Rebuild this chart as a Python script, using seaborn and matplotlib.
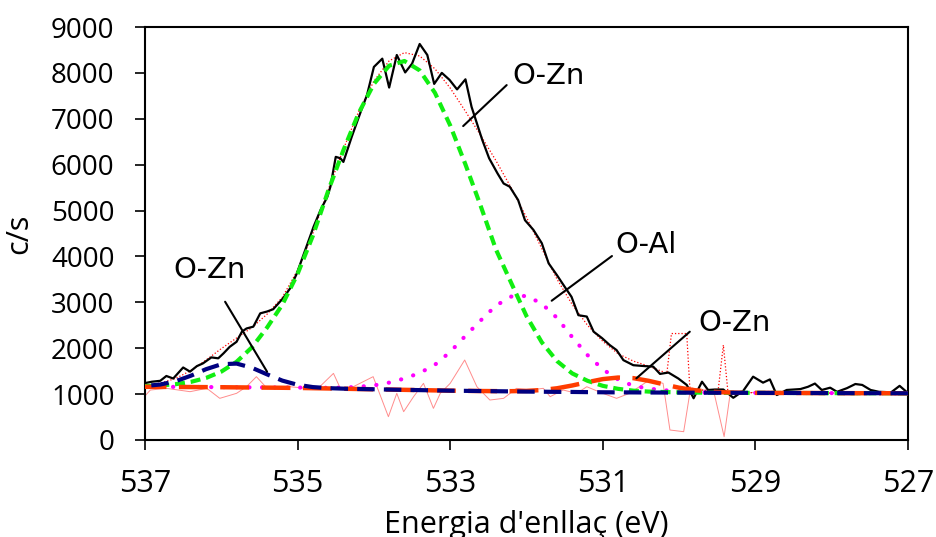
import matplotlib
matplotlib.use("Agg")
import matplotlib.pyplot as plt
import seaborn as sns

# ---------------- data ----------------
# experimental spectrum (black)
exp_energy = [537.00, 536.91, 536.80, 536.72, 536.63, 536.50, 536.41, 536.32, 536.24, 536.13,
              536.04, 535.97, 535.89, 535.80, 535.73, 535.67, 535.58, 535.49, 535.40, 535.32,
              535.19, 535.10, 535.01, 534.90, 534.79, 534.70, 534.61, 534.57, 534.50, 534.44,
              534.40, 534.29, 534.18, 534.09, 534.00, 533.89, 533.80, 533.70, 533.59, 533.50,
              533.40, 533.30, 533.21, 533.11, 533.01, 532.91, 532.80, 532.72, 532.65, 532.58,
              532.49, 532.38, 532.30, 532.22, 532.11, 532.02, 531.91, 531.80, 531.71, 531.60,
              531.50, 531.41, 531.32, 531.21, 531.12, 531.01, 530.91, 530.82, 530.73, 530.60,
              530.45, 530.34, 530.25, 530.14, 530.01, 529.90, 529.81, 529.70, 529.62, 529.53,
              529.42, 529.29, 529.16, 529.03, 528.90, 528.81, 528.72, 528.59, 528.41, 528.31,
              528.22, 528.13, 528.02, 527.93, 527.80, 527.69, 527.60, 527.49, 527.38, 527.22,
              527.11, 527.02, 527.00]
exp_counts = [1240, 1270, 1290, 1395, 1340, 1580, 1490, 1610, 1670, 1800,
              1780, 1890, 2030, 2140, 2360, 2430, 2470, 2760, 2800, 2850,
              3090, 3300, 3630, 4140, 4650, 5010, 5300, 5520, 6170, 6140,
              6060, 6610, 7120, 7520, 8130, 8310, 7680, 8390, 8010, 8200,
              8630, 8390, 7760, 8000, 7850, 7640, 7860, 7260, 6900, 6540,
              6140, 5810, 5590, 5520, 5230, 4790, 4580, 4290, 3850, 3590,
              3340, 3120, 2720, 2690, 2360, 2220, 2070, 1960, 1740, 1630,
              1610, 1600, 1440, 1470, 1340, 1200, 910, 1270, 1090, 1100,
              1100, 920, 1070, 1380, 1250, 1320, 980, 1090, 1110, 1160,
              1230, 1090, 1140, 1050, 1130, 1220, 1200, 1090, 1050, 1040,
              1180, 1050, 1050]

# fitted components (each including background)
fit_energy = [537.0, 536.8, 536.6, 536.4, 536.2, 536.0, 535.8, 535.6, 535.4, 535.2,
              535.0, 534.8, 534.6, 534.4, 534.2, 534.0, 533.8, 533.6, 533.4, 533.2,
              533.0, 532.8, 532.6, 532.4, 532.2, 532.0, 531.8, 531.6, 531.4, 531.2,
              531.0, 530.8, 530.6, 530.4, 530.2, 530.0, 529.8, 529.6, 529.4, 529.2,
              529.0, 528.8, 528.6, 528.4, 528.2, 528.0, 527.8, 527.6, 527.4, 527.2,
              527.0]
ozn_main = [1175, 1189, 1216, 1266, 1352, 1490, 1704, 2017, 2451, 2950,
            3620, 4450, 5425, 6314, 7122, 7761, 8157, 8259, 8054, 7566,
            6855, 6004, 5098, 4150, 3422, 2700, 2130, 1720, 1450, 1290,
            1180, 1115, 1075, 1055, 1046, 1038, 1033, 1031, 1029, 1028,
            1027, 1026, 1025, 1024, 1023, 1022, 1021, 1020, 1020, 1019,
            1018]
ozn_high = [1177, 1209, 1280, 1400, 1543, 1651, 1665, 1575, 1430, 1294,
            1203, 1153, 1130, 1119, 1111, 1105, 1099, 1093, 1087, 1081,
            1075, 1071, 1067, 1063, 1059, 1055, 1052, 1049, 1047, 1043,
            1040, 1038, 1037, 1035, 1034, 1032, 1031, 1030, 1029, 1028,
            1027, 1026, 1025, 1024, 1023, 1022, 1021, 1020, 1020, 1019,
            1018]
oal = [1162, 1160, 1158, 1156, 1154, 1152, 1149, 1147, 1145, 1143,
       1143, 1139, 1138, 1141, 1160, 1190, 1250, 1340, 1460, 1640,
       1920, 2270, 2606, 2930, 3125, 3140, 2971, 2661, 2240, 1850,
       1540, 1320, 1180, 1120, 1085, 1057, 1040, 1033, 1030, 1028,
       1027, 1026, 1025, 1024, 1023, 1022, 1021, 1020, 1020, 1019,
       1018]
ozn_low = [1160, 1158, 1156, 1154, 1152, 1150, 1147, 1144, 1141, 1138,
           1135, 1129, 1123, 1117, 1111, 1105, 1099, 1093, 1087, 1081,
           1075, 1071, 1067, 1065, 1064, 1070, 1089, 1127, 1188, 1261,
           1327, 1361, 1348, 1290, 1213, 1139, 1086, 1054, 1038, 1031,
           1027, 1026, 1025, 1024, 1023, 1022, 1021, 1020, 1020, 1019,
           1018]

# fit envelope (red dotted)
env_energy = [537.0, 536.8, 536.6, 536.4, 536.2, 536.0, 535.8, 535.6, 535.4, 535.2,
              535.0, 534.8, 534.6, 534.4, 534.2, 534.0, 533.8, 533.6, 533.4, 533.2,
              533.0, 532.8, 532.6, 532.4, 532.2, 532.0, 531.8, 531.6, 531.4, 531.2,
              531.0, 530.8, 530.6, 530.4, 530.2, 530.16, 530.10, 529.90, 529.86, 529.8,
              529.6, 529.49, 529.42, 529.36, 529.2, 529.0, 528.6, 528.2, 527.8, 527.4,
              527.0]
env_counts = [1192, 1240, 1340, 1512, 1743, 1991, 2222, 2448, 2742, 3110,
              3700, 4500, 5447, 6340, 7159, 7822, 8262, 8442, 8368, 8089,
              7670, 7162, 6637, 6087, 5493, 4852, 4173, 3505, 2950, 2500,
              2150, 1880, 1720, 1610, 1480, 1460, 2320, 2320, 1150, 1110,
              1070, 1055, 2070, 1045, 1035, 1030, 1026, 1023, 1021, 1020,
              1018]

# residual (thin pink)
res_energy = [537.00, 536.93, 536.72, 536.41, 536.19, 536.02, 535.80, 535.67, 535.54, 535.40,
              535.23, 535.10, 534.88, 534.71, 534.53, 534.44, 534.27, 534.01, 533.81, 533.70,
              533.61, 533.48, 533.35, 533.22, 533.13, 533.00, 532.81, 532.65, 532.48, 532.30,
              532.13, 531.95, 531.78, 531.69, 531.52, 531.34, 531.21, 531.00, 530.82, 530.65,
              530.39, 530.21, 530.12, 529.94, 529.86, 529.69, 529.55, 529.41, 529.33, 529.20,
              529.00, 528.50, 528.00, 527.50, 527.00]
res_counts = [960, 1089, 1126, 1053, 1126, 908, 1017, 1161, 1380, 1126,
              1161, 1161, 1126, 1161, 1452, 1126, 1161, 1380, 508, 1017,
              617, 944, 1235, 690, 1017, 1235, 1743, 1161, 871, 908,
              1126, 1089, 1126, 944, 1089, 1017, 1161, 1017, 908, 1017,
              1307, 1235, 218, 181, 1017, 1089, 1089, 73, 1017, 1017,
              1040, 1030, 1025, 1020, 1018]

x_ticks = [537, 535, 533, 531, 529, 527]
y_ticks = [0, 1000, 2000, 3000, 4000, 5000, 6000, 7000, 8000, 9000]

ann_labels = ["O-Zn", "O-Al", "O-Zn", "O-Zn"]
ann_text_pos = [(532.19, 7930), (530.84, 4248), (529.75, 2549), (536.63, 3704)]
ann_lines = [((532.83, 6841), (532.26, 7734)),
             ((531.67, 3035), (530.88, 4009)),
             ((530.56, 1344), (529.86, 2360)),
             ((535.95, 3013), (535.40, 1488))]

# ---------------- plot ----------------
sns.set_theme(style="ticks")
plt.rcParams['font.family'] = ['Open Sans', 'DejaVu Sans']

fig = plt.figure(figsize=(9.36, 5.37), dpi=100)
ax = fig.add_axes([145 / 936, 1 - 440 / 537, 763 / 936, 413 / 537])

sns.lineplot(x=res_energy, y=res_counts, ax=ax, color="#ff8c8c", linewidth=0.7, zorder=2)
sns.lineplot(x=env_energy, y=env_counts, ax=ax, color="#ff0000", linewidth=0.9,
             linestyle=(0, (1, 1.6)), zorder=3)
sns.lineplot(x=exp_energy, y=exp_counts, ax=ax, color="black", linewidth=1.6, zorder=4)
sns.lineplot(x=fit_energy, y=oal, ax=ax, color="#ff00ff", linewidth=3.0,
             linestyle=(0, (0.05, 3.0)), dash_capstyle="round", zorder=5)
sns.lineplot(x=fit_energy, y=ozn_main, ax=ax, color="#11ee11", linewidth=3.0,
             linestyle=(0, (2.4, 1.4)), zorder=6)
sns.lineplot(x=fit_energy, y=ozn_low, ax=ax, color="#ff3c00", linewidth=3.2,
             linestyle=(0, (6.5, 2.8)), zorder=6)
sns.lineplot(x=fit_energy, y=ozn_high, ax=ax, color="#000080", linewidth=3.0,
             linestyle=(0, (4.2, 2.2)), zorder=7)

for (p0, p1) in ann_lines:
    ax.plot([p0[0], p1[0]], [p0[1], p1[1]], color="black", linewidth=1.5, zorder=8)
for lab, (tx, ty) in zip(ann_labels, ann_text_pos):
    ax.text(tx, ty, lab, ha="left", va="center", fontsize=21,
            family=["DejaVu Sans"], color="black", zorder=9)

ax.set_xlim(537, 527)
ax.set_ylim(0, 9000)
ax.set_xticks(x_ticks)
ax.set_yticks(y_ticks)
ax.set_xticklabels([str(t) for t in x_ticks])
ax.set_yticklabels([str(t) for t in y_ticks])

for s in ax.spines.values():
    s.set_visible(True)
    s.set_linewidth(1.5)
    s.set_color("black")

ax.tick_params(axis="x", direction="out", length=7, width=1.2, pad=14,
               labelsize=22, colors="black", top=False)
ax.tick_params(axis="y", direction="out", length=7, width=1.2, pad=15,
               labelsize=20, colors="black", right=False)

ax.set_xlabel("Energia d'enllaç (eV)", fontsize=22, color="black", labelpad=8)
ax.set_ylabel("c/s", fontsize=22, color="black")
ax.yaxis.set_label_coords(-0.145, 0.5)

fig.savefig("out.png", dpi=100)
